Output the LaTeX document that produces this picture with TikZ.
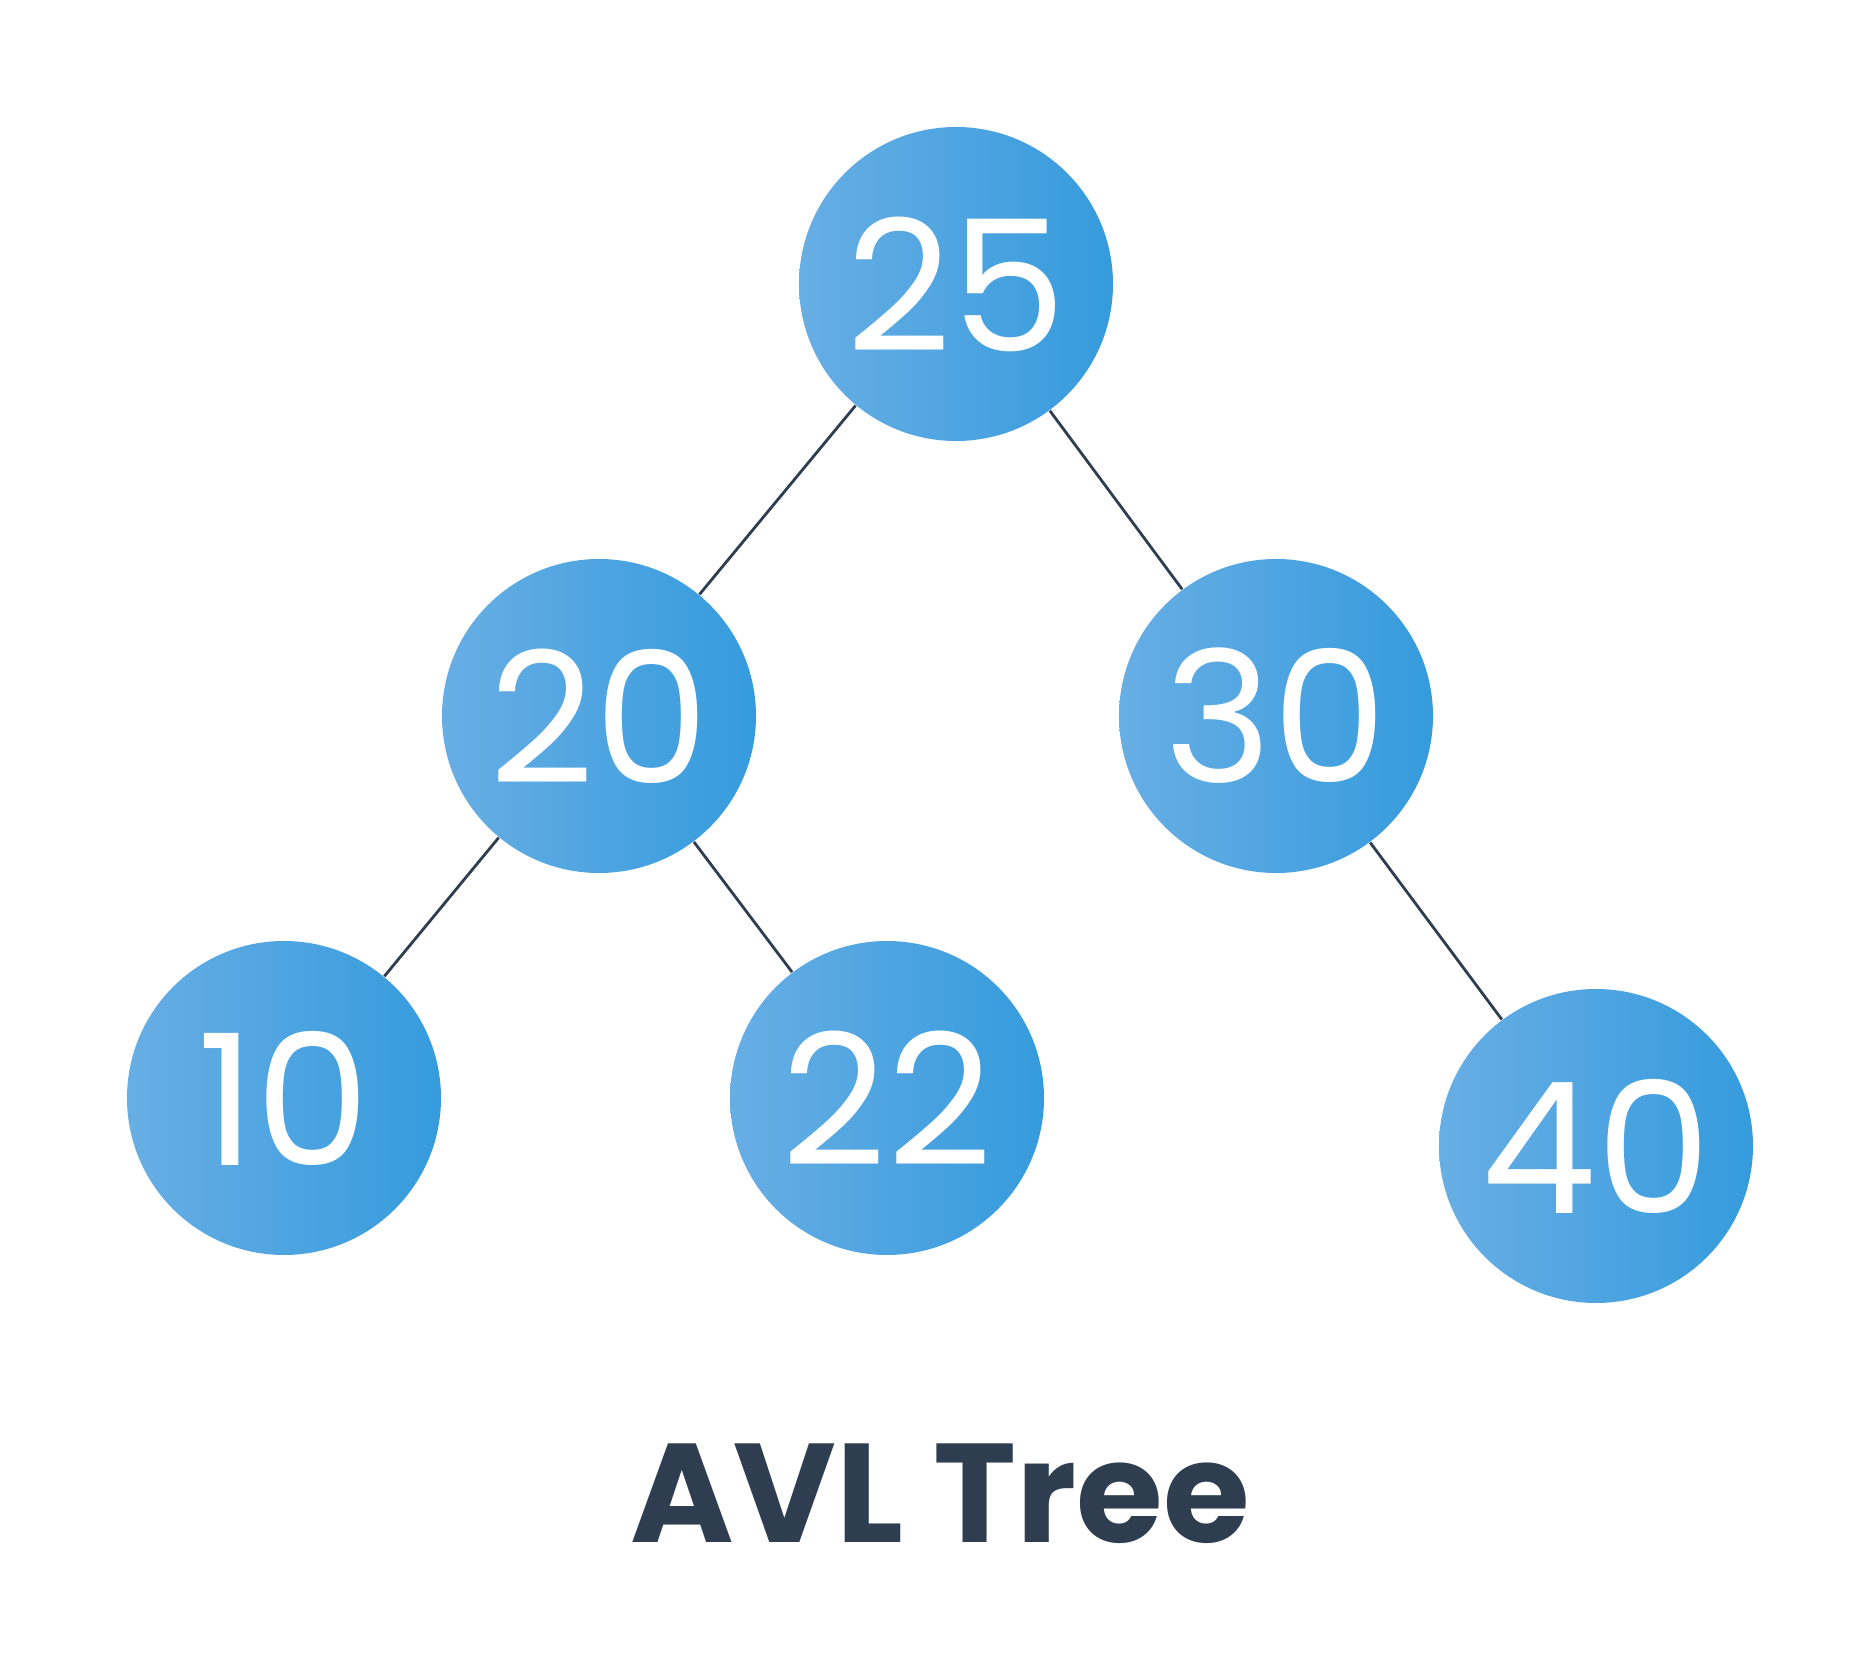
\documentclass[tikz,border=0pt]{standalone}
\usepackage{fontspec}
\setmainfont{Poppins}
\usetikzlibrary{backgrounds}
\definecolor{nodeleft}{HTML}{68AEE4}
\definecolor{noderight}{HTML}{359BDD}
\definecolor{edgecol}{HTML}{2E3E50}
\tikzset{
    avlnode/.style={circle, minimum size=3.14cm, inner sep=0pt, left color=nodeleft, right color=noderight, text=white, font=\fontsize{52}{52}\selectfont},
    avledge/.style={draw=edgecol, line width=0.8pt}
}
\begin{document}
\begin{tikzpicture}
    \useasboundingbox (0,0) rectangle (18.75,-16.6);
    % Tree nodes
    \node[avlnode] (n25) at (9.56,-2.84) {25};
    \node[avlnode] (n20) at (5.99,-7.16) {20};
    \node[avlnode] (n30) at (12.76,-7.16) {30};
    \node[avlnode] (n10) at (2.84,-10.98) {10};
    \node[avlnode] (n22) at (8.87,-10.98) {22};
    \node[avlnode] (n40) at (15.96,-11.46) {40};

    % Title
    \node[text=edgecol, font=\fontsize{40}{40}\selectfont\bfseries] (title) at (9.40,-14.94) {AVL Tree};

    % Edges
    \begin{scope}[on background layer]
        \draw[avledge] (n25) -- (n20);
        \draw[avledge] (n25) -- (n30);
        \draw[avledge] (n20) -- (n10);
        \draw[avledge] (n20) -- (n22);
        \draw[avledge] (n30) -- (n40);
    \end{scope}
\end{tikzpicture}
\end{document}
